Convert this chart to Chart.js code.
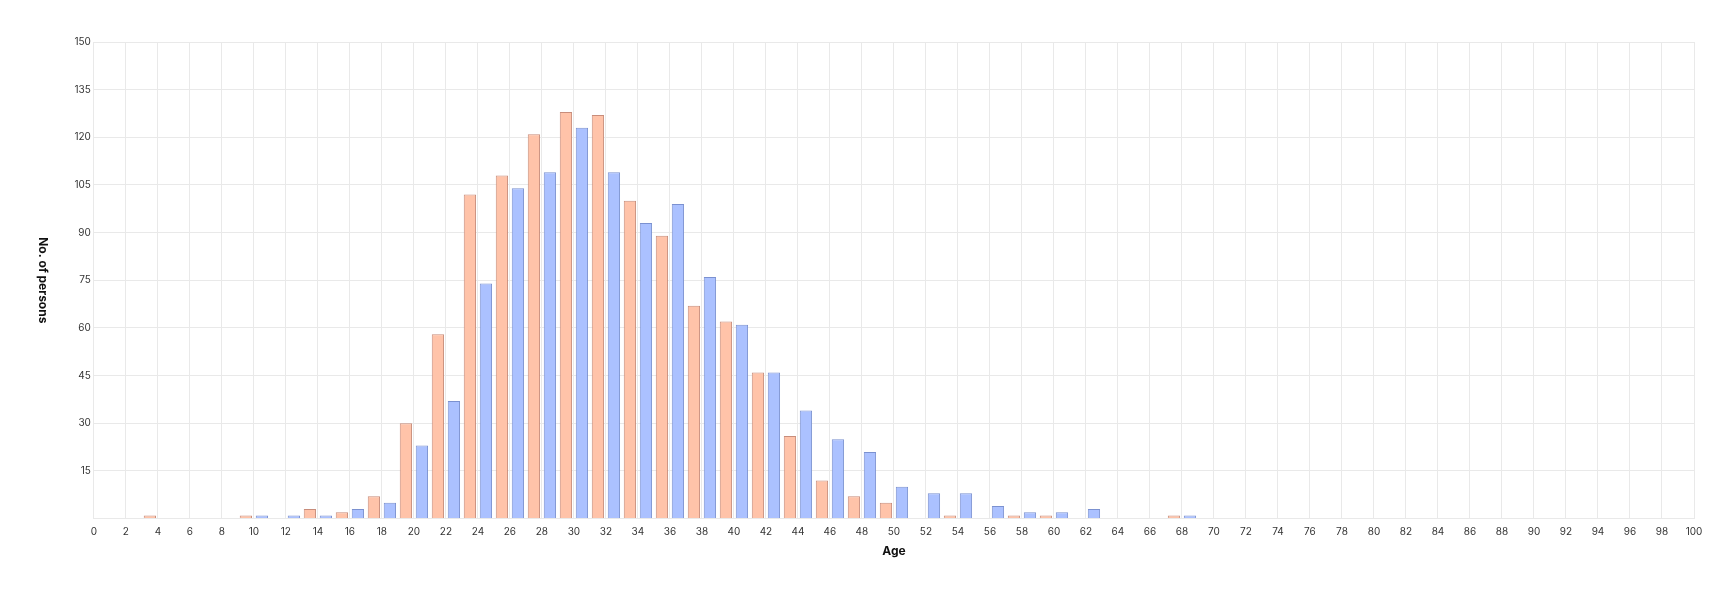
<!DOCTYPE html>
<html>
<head>
<meta charset="utf-8">
<title>Age distribution</title>
<script src="https://cdn.jsdelivr.net/npm/chart.js@4/dist/chart.umd.min.js"></script>
<style>
    html, body { margin: 0; padding: 0; background: #fff; }
    #wrap { width: 1734px; height: 594px; }
</style>
</head>
<body>
<div id="wrap"><canvas id="age-chart"></canvas></div>
<script>
// ages with at least one person, and how many
var ages = [3, 9, 10, 12, 13, 14, 15, 16, 17, 18, 19, 20, 21, 22, 23, 24, 25, 26, 27, 28,
    29, 30, 31, 32, 33, 34, 35, 36, 37, 38, 39, 40, 41, 42, 43, 44, 45, 46, 47, 48,
    49, 50, 52, 53, 54, 56, 57, 58, 59, 60, 62, 67, 68];
var persons = [1, 1, 1, 1, 3, 1, 2, 3, 7, 5, 30, 23, 58, 37, 102, 74, 108, 104, 121, 109,
    128, 123, 127, 109, 100, 93, 89, 99, 67, 76, 62, 61, 46, 46, 26, 34, 12, 25, 7, 21,
    5, 10, 8, 1, 8, 4, 1, 2, 1, 2, 3, 1, 1];

var xMin = 0, xMax = 100, xStep = 2;
var yMin = 0, yMax = 150, yStep = 15;

var fontFamily = "Inter, 'Noto Sans', sans-serif";
var gridColor = "#e9e9e9";

// even ages blue, odd ages salmon
var evenFill = "#abc1ff", evenBorder = "#7b91d0";
var oddFill = "#ffc3a9", oddBorder = "#c88d7b";

// each bar covers [age, age + 1)
var points = [];
for (var i = 0; i < ages.length; i++) {
    points.push({ x: ages[i] + 0.5, y: persons[i] });
}

function isEven(ctx) {
    return ages[ctx.dataIndex] % 2 === 0;
}

// left axis title reads top to bottom
var sideTitle = {
    id: 'sideTitle',
    afterDraw: function (chart) {
        var scale = chart.scales.y;
        var area = chart.chartArea;
        var ctx = chart.ctx;
        ctx.save();
        ctx.translate(scale.left + 7, (area.top + area.bottom) / 2);
        ctx.rotate(Math.PI / 2);
        ctx.fillStyle = "#111";
        ctx.font = "bold 12px " + fontFamily;
        ctx.textAlign = "center";
        ctx.textBaseline = "middle";
        ctx.fillText("No. of persons", 0, 0);
        ctx.restore();
    }
};

var ageChart = new Chart(document.getElementById("age-chart"), {
    type: 'bar',
    data: {
        datasets: [{
            data: points,
            backgroundColor: function (ctx) { return isEven(ctx) ? evenFill : oddFill; },
            borderColor: function (ctx) { return isEven(ctx) ? evenBorder : oddBorder; },
            borderWidth: 1,
            borderSkipped: 'bottom',
            barPercentage: 0.96,
            categoryPercentage: 0.8
        }]
    },
    options: {
        responsive: true,
        maintainAspectRatio: false,
        animation: false,
        layout: {
            padding: { top: 42, right: 40, bottom: 31, left: 36 }
        },
        scales: {
            x: {
                type: 'linear',
                min: xMin,
                max: xMax,
                offset: false,
                grid: { color: gridColor, drawTicks: false, offset: false },
                border: { color: gridColor },
                ticks: {
                    stepSize: xStep,
                    autoSkip: false,
                    maxRotation: 0,
                    padding: 7,
                    color: "#333",
                    font: { family: fontFamily, size: 10 }
                },
                title: {
                    display: true,
                    text: 'Age',
                    color: "#111",
                    padding: { top: 0, bottom: 4 },
                    font: { family: fontFamily, size: 12, weight: 'bold' }
                }
            },
            y: {
                min: yMin,
                max: yMax,
                grid: { color: gridColor, drawTicks: false },
                border: { color: gridColor },
                ticks: {
                    stepSize: yStep,
                    padding: 3,
                    color: "#333",
                    font: { family: fontFamily, size: 10 },
                    callback: function (value) {
                        return value === 0 ? '' : value;
                    }
                },
                title: {
                    // keeps the room; the text itself is drawn by sideTitle
                    display: true,
                    text: 'No. of persons',
                    color: 'rgba(0,0,0,0)',
                    padding: { top: 0, bottom: 21 },
                    font: { family: fontFamily, size: 12, weight: 'bold' }
                }
            }
        },
        plugins: {
            legend: { display: false },
            tooltip: { enabled: false }
        }
    },
    plugins: [sideTitle]
});
</script>
</body>
</html>
